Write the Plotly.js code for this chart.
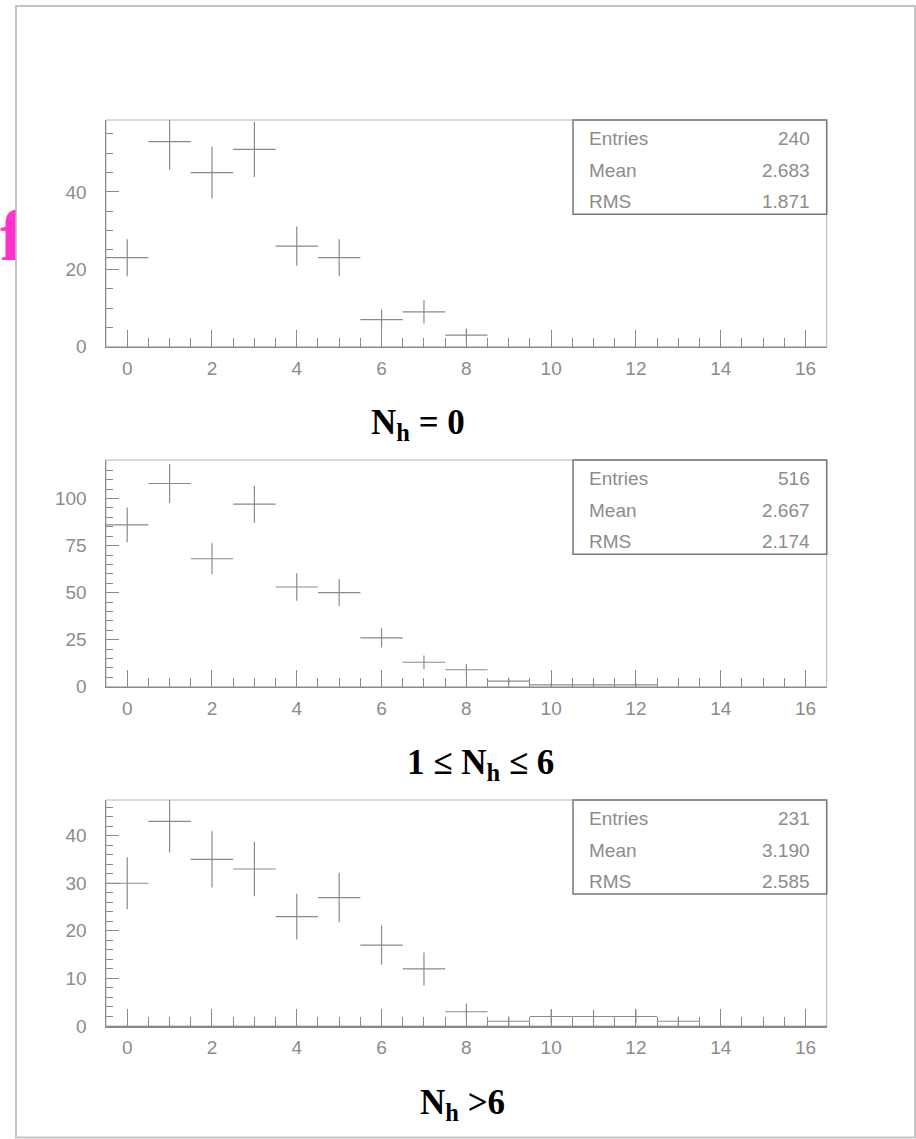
<!DOCTYPE html>
<html>
<head>
<meta charset="utf-8">
<script src="https://cdn.plot.ly/plotly-3.0.1.min.js"></script>
<style>html,body{margin:0;padding:0;background:#fff;}#chart{width:916px;height:1139px;}</style>
</head>
<body>
<div id="chart"></div>
<script>
// ---- data ----
const bins1 = [0, 1, 2, 3, 4, 5, 6, 7, 8];
const counts1 = [23, 53, 45, 51, 26, 23, 7, 9, 3];
const bins2 = [0, 1, 2, 3, 4, 5, 6, 7, 8, 9, 10, 11, 12];
const counts2 = [86, 108, 68, 97, 53, 50, 26, 13, 9, 3, 1, 1, 1];
const bins3 = [0, 1, 2, 3, 4, 5, 6, 7, 8, 9, 10, 11, 12, 13];
const counts3 = [30, 43, 35, 33, 23, 27, 17, 12, 3, 1, 2, 2, 2, 1];
const statLabels = ["Entries", "Mean", "RMS"];
const stats1 = ["240", "2.683", "1.871"];
const stats2 = ["516", "2.667", "2.174"];
const stats3 = ["231", "3.190", "2.585"];
const panelTitles = ["N<sub>h</sub> = 0", "1 \u2264 N<sub>h</sub> \u2264 6", "N<sub>h</sub> >6"];
const xTickVals = [0, 2, 4, 6, 8, 10, 12, 14, 16];

// ---- layout helpers ----
const W = 916, H = 1139;
const px = v => v / W;
const py = v => 1 - v / H;
const gray = '#8a8a8a';
const tickFont = {family: 'Liberation Sans, Arial, sans-serif', size: 19, color: '#8c8c8c'};
const statFont = {family: 'Liberation Sans, Arial, sans-serif', size: 19, color: '#8c8c8c'};

const panels = [
  {bins: bins1, counts: counts1, stats: stats1, top: 120, bottom: 346.7, ymax: 58.6, dtick: 20, minor: 5, title: panelTitles[0], tx: 418, ty: 424},
  {bins: bins2, counts: counts2, stats: stats2, top: 460, bottom: 686.7, ymax: 120.5, dtick: 25, minor: 5, title: panelTitles[1], tx: 480, ty: 764},
  {bins: bins3, counts: counts3, stats: stats3, top: 800, bottom: 1026, ymax: 47.5, dtick: 10, minor: 2, title: panelTitles[2], tx: 462, ty: 1104}
];

const data = [];
const layout = {
  width: W, height: H,
  margin: {l: 0, r: 0, t: 0, b: 0},
  paper_bgcolor: '#ffffff', plot_bgcolor: 'rgba(0,0,0,0)',
  showlegend: false, hovermode: false,
  shapes: [], annotations: []
};

// outer page frame
layout.shapes.push({type: 'rect', xref: 'paper', yref: 'paper', x0: px(16), x1: px(915), y0: py(1137.5), y1: py(6),
  line: {color: '#c4c4c4', width: 2}, layer: 'below'});

panels.forEach((p, i) => {
  const n = i + 1;
  const xa = 'xaxis' + (n === 1 ? '' : n), ya = 'yaxis' + (n === 1 ? '' : n);
  const xr = 'x' + (n === 1 ? '' : n), yr = 'y' + (n === 1 ? '' : n);
  data.push({
    type: 'scatter', mode: 'markers', x: p.bins, y: p.counts, xaxis: xr, yaxis: yr,
    marker: {size: 1, color: 'rgba(0,0,0,0)'},
    error_x: {type: 'constant', value: 0.5, width: 0, color: '#8a8a8a', thickness: 1.2},
    error_y: {type: 'data', array: p.counts.map(c => Math.sqrt(c)), width: 0, color: '#8a8a8a', thickness: 1.2},
    cliponaxis: true
  });
  layout[xa] = {
    domain: [px(106), px(826.7)], anchor: yr, range: [-0.5, 16.5],
    tickvals: xTickVals, ticks: 'inside', ticklen: 17, tickwidth: 1, tickcolor: gray,
    minor: {dtick: 0.5, tick0: 0, ticks: 'inside', ticklen: 9, tickwidth: 1, tickcolor: gray, showgrid: false},
    showline: true, linecolor: gray, linewidth: 1.5,
    showgrid: false, zeroline: false, tickfont: tickFont, ticklabelstandoff: 4, fixedrange: true
  };
  layout[ya] = {
    domain: [py(p.bottom), py(p.top)], anchor: xr, range: [0, p.ymax],
    dtick: p.dtick, tick0: 0, ticks: 'inside', ticklen: 13, tickwidth: 1, tickcolor: gray,
    minor: {dtick: p.minor, tick0: 0, ticks: 'inside', ticklen: 7, tickwidth: 1, tickcolor: gray, showgrid: false},
    showline: true, linecolor: gray, linewidth: 1.5,
    showgrid: false, zeroline: false, tickfont: tickFont, ticklabelstandoff: 14, fixedrange: true
  };
  // plot frame
  layout.shapes.push({type: 'rect', xref: xr + ' domain', yref: yr + ' domain', x0: 0, x1: 1, y0: 0, y1: 1,
    line: {color: '#b5b5b5', width: 1}, layer: 'below'});
  // stats box
  layout.shapes.push({type: 'rect', xref: xr + ' domain', yref: yr + ' domain', x0: 0.648, x1: 1, y0: 0.584, y1: 1,
    line: {color: '#777777', width: 1.5}, fillcolor: 'rgba(0,0,0,0)'});
  const rowY = [0.919, 0.776, 0.640];
  statLabels.forEach((lab, k) => {
    layout.annotations.push({xref: xr + ' domain', yref: yr + ' domain', x: 0.668, y: rowY[k], xanchor: 'left', yanchor: 'middle',
      text: lab, showarrow: false, font: statFont});
    layout.annotations.push({xref: xr + ' domain', yref: yr + ' domain', x: 0.979, y: rowY[k], xanchor: 'right', yanchor: 'middle',
      text: p.stats[k], showarrow: false, font: statFont});
  });
  // panel caption
  layout.annotations.push({xref: 'paper', yref: 'paper', x: px(p.tx), y: py(p.ty), xanchor: 'center', yanchor: 'middle',
    text: '<b>' + p.title + '</b>', showarrow: false,
    font: {family: 'Liberation Serif, Times New Roman, serif', size: 35, color: '#000000'}});
});

// clipped magenta letter at the left edge (part of the page outside the frame)
data.push({
  type: 'scatter', mode: 'text', x: [12], y: [242], text: ['<b>f</b>'], textposition: 'middle center',
  textfont: {family: 'Liberation Serif, Times New Roman, serif', size: 72, color: '#ff33cc'},
  xaxis: 'x4', yaxis: 'y4', cliponaxis: true
});
layout.xaxis4 = {domain: [0, px(15.5)], range: [0, 15.5], visible: false, fixedrange: true, anchor: 'y4'};
layout.yaxis4 = {domain: [0, 1], range: [H, 0], visible: false, fixedrange: true, anchor: 'x4'};

Plotly.newPlot('chart', data, layout, {staticPlot: true, displayModeBar: false});
</script>
</body>
</html>
